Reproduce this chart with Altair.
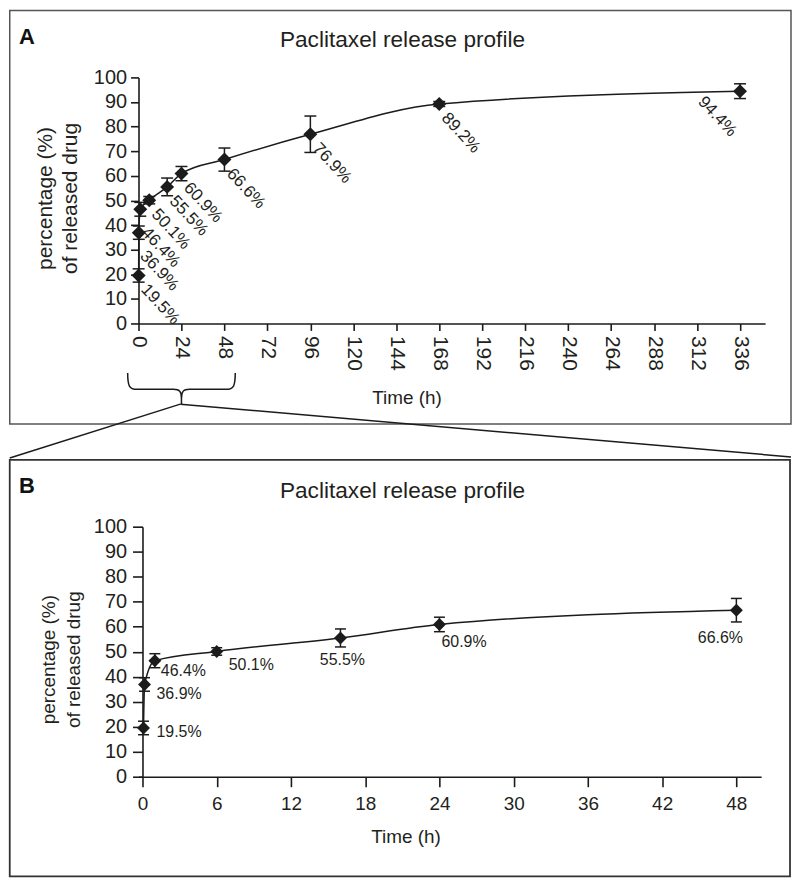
import altair as alt
import pandas as pd

# ---------------- data ----------------
time_h = [0.083, 0.167, 1, 6, 16, 24, 48, 96, 168, 336]
released_pct = [19.5, 36.9, 46.4, 50.1, 55.5, 60.9, 66.6, 76.9, 89.2, 94.4]
sd_pct = [2.7, 2.7, 2.8, 1.5, 3.6, 2.9, 4.7, 7.4, 1.0, 3.0]
point_labels = ["19.5%", "36.9%", "46.4%", "50.1%", "55.5%", "60.9%",
                "66.6%", "76.9%", "89.2%", "94.4%"]
x_ticks_a = [0, 24, 48, 72, 96, 120, 144, 168, 192, 216, 240, 264, 288, 312, 336]
x_ticks_b = [0, 6, 12, 18, 24, 30, 36, 42, 48]
y_ticks = [0, 10, 20, 30, 40, 50, 60, 70, 80, 90, 100]
zoom_range_h = [0, 48]
chart_title = "Paclitaxel release profile"
y_title = ["percentage (%)", "of released drug"]
x_title = "Time (h)"

df = pd.DataFrame({
    "t": time_h,
    "p": released_pct,
    "lo": [p - s for p, s in zip(released_pct, sd_pct)],
    "hi": [p + s for p, s in zip(released_pct, sd_pct)],
    "label": point_labels,
    "i": list(range(len(time_h))),
})
df_b = df[df["t"] <= zoom_range_h[1]]
deco = pd.DataFrame({"k": [0]})

# ---------------- style ----------------
FONT = "Liberation Sans, Arial, Helvetica, sans-serif"
INK = "#1b1b1b"
TXT = "#231f20"
WA, HA = 629, 247
WB, HB = 625, 251
SPACING = 204
TITLE_FS = 22.7

# label nudges (dx, dy) in panel A (rotated labels); default (12, 4)
A_NUDGE = {1: (18, 11), 2: (18, 11), 9: (-21, 34)}
# label style in panel B: (align, dx, dy)
B_STYLE = [("left", 13, 4), ("left", 12, 10), ("left", 6, 10), ("left", 12, 14),
           ("center", 2, 22), ("left", 2, 18), ("center", -16, 28)]

BRACE = ("M -1 -0.29 C -1 -0.05 -0.97 0.01 -0.83 0.01 L -0.15 0.01 "
         "C -0.03 0.01 0 0.06 0 0.18 L 0 0.29 L 0 0.18 "
         "C 0 0.06 0.03 0.01 0.15 0.01 L 0.83 0.01 "
         "C 0.97 0.01 1 -0.05 1 -0.29")


def xa(field="t"):
    return alt.X(f"{field}:Q",
                 scale=alt.Scale(domain=[0, 350], nice=False, zero=False),
                 axis=alt.Axis(values=x_ticks_a, labelAngle=90, labelAlign="left",
                               labelBaseline="middle", labelFontSize=21, tickSize=7,
                               labelPadding=5, title=x_title, titleX=269, titleY=74,
                               titleAlign="center", titleBaseline="middle",
                               titleFontSize=19))


def ya(field="p"):
    return alt.Y(f"{field}:Q",
                 scale=alt.Scale(domain=[0, 100], nice=False),
                 axis=alt.Axis(values=y_ticks, labelFontSize=20, tickSize=8,
                               labelPadding=4, title=y_title, titleX=-93, titleY=121,
                               titleAlign="center", titleBaseline="middle",
                               titleLineHeight=25, titleFontSize=21))


def xb(field="t"):
    return alt.X(f"{field}:Q",
                 scale=alt.Scale(domain=[-0.322, 50], nice=False, zero=False),
                 axis=alt.Axis(values=x_ticks_b, labelAngle=0, labelFontSize=19,
                               tickSize=10, labelPadding=8, title=x_title, titleX=268,
                               titleY=60, titleAlign="center", titleBaseline="middle",
                               titleFontSize=19))


def yb(field="p"):
    return alt.Y(f"{field}:Q",
                 scale=alt.Scale(domain=[0, 100], nice=False),
                 axis=alt.Axis(values=y_ticks, labelFontSize=20, tickSize=10, offset=-4,
                               labelPadding=6, title=y_title, titleX=-94, titleY=133,
                               titleAlign="center", titleBaseline="middle",
                               titleLineHeight=25, titleFontSize=19))


def series_layers(data, X, Y, dsize, cap):
    line = alt.Chart(data).mark_line(interpolate="monotone", color=INK,
                                     strokeWidth=1.5).encode(x=X(), y=Y("p"))
    bars = alt.Chart(data).mark_rule(color=INK, strokeWidth=1.5).encode(
        x=X(), y=Y("lo"), y2="hi:Q")
    cap_lo = alt.Chart(data).mark_tick(orient="horizontal", size=cap, thickness=1.5,
                                       color=INK, opacity=1).encode(x=X(), y=Y("lo"))
    cap_hi = alt.Chart(data).mark_tick(orient="horizontal", size=cap, thickness=1.5,
                                       color=INK, opacity=1).encode(x=X(), y=Y("hi"))
    pts = alt.Chart(data).mark_point(shape="diamond", size=dsize, filled=True,
                                     color=INK, opacity=1).encode(x=X(), y=Y("p"))
    return [line, bars, cap_lo, cap_hi, pts]


# ---------------- panel A ----------------
labels_a = []
for i in range(len(time_h)):
    dx, dy = A_NUDGE.get(i, (12, 4))
    labels_a.append(
        alt.Chart(df).transform_filter(alt.datum.i == i).mark_text(
            angle=47, align="left", baseline="middle", dx=dx, dy=dy, fontSize=17,
            font=FONT, color=TXT).encode(x=xa(), y=ya("p"), text="label:N"))

border_a = alt.Chart(deco).mark_rect(fillOpacity=0, stroke="#555", strokeWidth=1.5).encode(
    x=alt.value(-129.25), x2=alt.value(655), y=alt.value(-67.25), y2=alt.value(348))
title_a = alt.Chart(deco).mark_text(fontSize=TITLE_FS, align="center", baseline="alphabetic",
                                    font=FONT, color=TXT).encode(
    x=alt.value(265), y=alt.value(-31), text=alt.value(chart_title))
tag_a = alt.Chart(deco).mark_text(fontSize=22, fontWeight="bold", align="left",
                                  baseline="alphabetic", font=FONT, color="#111").encode(
    x=alt.value(-120), y=alt.value(-34), text=alt.value("A"))
bracket = alt.Chart(deco).mark_point(shape=BRACE, size=108 ** 2, filled=False, color=INK,
                                     strokeWidth=1.5, opacity=1).encode(
    x=alt.datum(sum(zoom_range_h) / 2), y=alt.value(HA + 65.5))
link_l = alt.Chart(deco).mark_rule(color=INK, strokeWidth=1.5).encode(
    x=alt.value(42), y=alt.value(328), x2=alt.value(-129.25), y2=alt.value(382))
link_r = alt.Chart(deco).mark_rule(color=INK, strokeWidth=1.5).encode(
    x=alt.value(42), y=alt.value(328), x2=alt.value(655), y2=alt.value(381))

panel_a = alt.layer(border_a, title_a, tag_a, link_l, link_r, bracket,
                    *series_layers(df, xa, ya, 196, 12), *labels_a).properties(
    width=WA, height=HA)

# ---------------- panel B ----------------
labels_b = []
for i, (al, dx, dy) in enumerate(B_STYLE):
    labels_b.append(
        alt.Chart(df_b).transform_filter(alt.datum.i == i).mark_text(
            align=al, baseline="middle", dx=dx, dy=dy, fontSize=16,
            font=FONT, color=TXT).encode(x=xb(), y=yb("p"), text="label:N"))

border_b = alt.Chart(deco).mark_rect(fillOpacity=0, stroke="#333", strokeWidth=1.8).encode(
    x=alt.value(-129.25), x2=alt.value(654), y=alt.value(-67), y2=alt.value(351))
title_b = alt.Chart(deco).mark_text(fontSize=TITLE_FS, align="center", baseline="alphabetic",
                                    font=FONT, color=TXT).encode(
    x=alt.value(265), y=alt.value(-29), text=alt.value(chart_title))
tag_b = alt.Chart(deco).mark_text(fontSize=22, fontWeight="bold", align="left",
                                  baseline="alphabetic", font=FONT, color="#111").encode(
    x=alt.value(-120), y=alt.value(-34), text=alt.value("B"))

panel_b = alt.layer(border_b, title_b, tag_b,
                    *series_layers(df_b, xb, yb, 169, 11), *labels_b).properties(
    width=WB, height=HB)

chart = alt.vconcat(panel_a, panel_b, spacing=SPACING, bounds="flush").properties(
    padding=0, background="white"
).configure_view(stroke=None).configure_axis(
    grid=False, domainColor=INK, tickColor=INK, domainWidth=1.6, tickWidth=1.6,
    labelFont=FONT, titleFont=FONT, labelColor=TXT, titleColor=TXT,
    titleFontWeight="normal")

chart.save("out.html", embed_options={"renderer": "svg", "actions": False})
